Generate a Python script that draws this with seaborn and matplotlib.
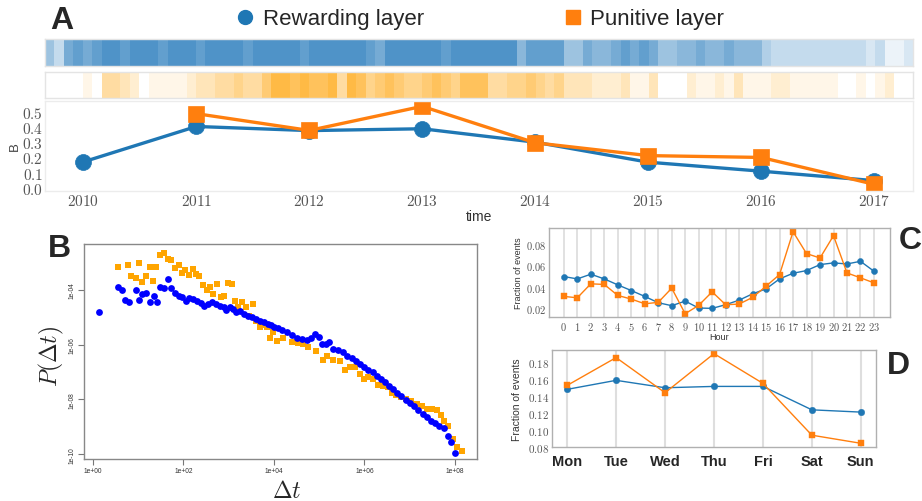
import numpy as np
import matplotlib.pyplot as plt
import seaborn as sns
from matplotlib.colors import LinearSegmentedColormap
from matplotlib.lines import Line2D

# ---- data ----
years = [2010, 2011, 2012, 2013, 2014, 2015, 2016, 2017]
rewarding_B = [0.171, 0.403, 0.376, 0.388, 0.300, 0.169, 0.110, 0.048]
punitive_years = [2011, 2012, 2013, 2014, 2015, 2016, 2017]
punitive_B = [0.487, 0.377, 0.535, 0.296, 0.212, 0.200, 0.024]

# event density per month (Sep 2009 .. Apr 2017), 0 = none, 9 = saturated
rewarding_activity = [
    5, 3, 7, 8, 7, 8, 9, 9, 8, 9, 9, 9, 8, 9,
    9, 9, 8, 9, 9, 9, 9, 8, 9, 9, 9, 9, 9, 8,
    9, 9, 9, 9, 9, 9, 8, 7, 9, 9, 9, 9, 9, 9,
    8, 9, 9, 9, 9, 9, 9, 9, 6, 8, 8, 8, 8, 5,
    5, 7, 6, 6, 7, 8, 7, 8, 7, 5, 5, 6, 6, 7,
    6, 6, 7, 6, 6, 6, 4, 3, 3, 3, 3, 3, 3, 3,
    3, 3, 3, 2, 3, 1, 1, 2,
]
punitive_activity = [
    0, 0, 0, 0, 1, 0, 4, 4, 3, 2, 0, 1, 1, 1,
    1, 2, 3, 3, 4, 4, 5, 4, 4, 6, 8, 8, 7, 8,
    7, 7, 8, 4, 8, 7, 5, 6, 7, 6, 5, 5, 6, 7,
    6, 5, 7, 7, 7, 4, 4, 5, 5, 6, 5, 4, 5, 3,
    3, 3, 2, 2, 2, 3, 1, 1, 3, 0, 0, 0, 2, 1,
    1, 2, 1, 3, 1, 1, 1, 2, 2, 1, 1, 1, 1, 1,
    0, 0, 1, 0, 1, 2, 0, 0,
]

# inter-event time distribution (log10 values)
rew_log_dt = [0.13, 0.55, 0.63, 0.70, 0.79, 0.95, 1.02, 1.09, 1.18, 1.25, 1.34, 1.42,
              1.49, 1.57, 1.65, 1.73, 1.81, 1.89, 1.96, 2.05, 2.13, 2.22, 2.29, 2.38,
              2.46, 2.55, 2.64, 2.72, 2.81, 2.89, 2.95, 3.03, 3.10, 3.17, 3.25, 3.34,
              3.43, 3.51, 3.60, 3.69, 3.77, 3.86, 3.93, 4.01, 4.10, 4.17, 4.28, 4.39,
              4.50, 4.61, 4.72, 4.81, 4.90, 5.00, 5.07, 5.15, 5.22, 5.31, 5.41, 5.52,
              5.62, 5.72, 5.81, 5.90, 5.99, 6.08, 6.18, 6.27, 6.36, 6.45, 6.54, 6.64,
              6.73, 6.82, 6.92, 7.01, 7.10, 7.19, 7.29, 7.38, 7.47, 7.56, 7.66, 7.75,
              7.84, 7.92, 8.00, 8.07]
rew_log_p = [-4.82, -3.91, -4.00, -4.36, -4.44, -4.00, -4.39, -4.16, -4.12, -4.44, -4.22, -4.46,
             -3.91, -3.95, -3.62, -3.95, -4.10, -4.22, -4.28, -4.40, -4.29, -4.34, -4.40, -4.48,
             -4.58, -4.53, -4.46, -4.52, -4.58, -4.64, -4.73, -4.64, -4.70, -4.82, -4.77, -4.89,
             -4.97, -5.01, -5.07, -5.13, -5.19, -5.25, -5.29, -5.34, -5.41, -5.46, -5.55, -5.65,
             -5.74, -5.80, -5.82, -5.77, -5.62, -5.71, -5.98, -5.98, -5.90, -6.16, -6.19, -6.26,
             -6.41, -6.50, -6.59, -6.71, -6.83, -6.92, -7.01, -7.14, -7.26, -7.38, -7.50, -7.62,
             -7.77, -7.89, -8.01, -8.13, -8.25, -8.39, -8.53, -8.65, -8.78, -8.86, -8.96, -9.05,
             -9.32, -9.56, -9.96, -10.27]
pun_log_dt = [0.55, 0.78, 0.85, 0.94, 1.01, 1.09, 1.17, 1.25, 1.32, 1.40, 1.49, 1.56,
              1.65, 1.72, 1.81, 1.89, 1.96, 2.03, 2.12, 2.20, 2.27, 2.35, 2.43, 2.51,
              2.58, 2.66, 2.75, 2.82, 2.90, 2.98, 3.07, 3.13, 3.21, 3.30, 3.38, 3.45,
              3.53, 3.60, 3.69, 3.77, 3.84, 3.91, 3.99, 4.06, 4.20, 4.39, 4.54, 4.65,
              4.76, 4.94, 5.09, 5.18, 5.31, 5.46, 5.57, 5.68, 5.79, 5.90, 5.99, 6.08,
              6.19, 6.31, 6.42, 6.53, 6.60, 6.70, 6.82, 6.93, 7.04, 7.16, 7.27, 7.38,
              7.49, 7.60, 7.69, 7.76, 7.85, 7.95, 8.04, 8.15]
pun_log_p = [-3.18, -3.10, -3.49, -3.58, -3.04, -3.73, -3.49, -3.18, -3.67, -3.18, -2.74, -2.64,
             -2.86, -2.91, -3.22, -3.09, -3.39, -3.28, -3.46, -3.25, -3.43, -3.51, -3.83, -4.00,
             -3.91, -4.16, -3.79, -4.25, -4.24, -3.77, -3.79, -4.40, -4.62, -4.44, -4.62, -4.97,
             -4.50, -5.13, -5.37, -5.29, -5.37, -5.77, -5.54, -5.86, -5.77, -5.92, -5.94, -5.98,
             -6.08, -6.22, -6.56, -6.43, -6.55, -6.59, -6.92, -6.83, -6.83, -7.07, -7.26, -7.19,
             -7.26, -7.47, -7.52, -7.56, -7.77, -7.84, -7.92, -7.98, -8.04, -8.17, -8.25, -8.35,
             -8.35, -8.37, -8.56, -8.78, -8.98, -9.44, -9.72, -9.89]

hours = list(range(24))
rew_hour = [0.0495, 0.0473, 0.0517, 0.0473, 0.0417, 0.0364, 0.0309, 0.0250,
            0.0222, 0.0265, 0.0200, 0.0197, 0.0231, 0.0274, 0.0333, 0.0380,
            0.0473, 0.0526, 0.0551, 0.0607, 0.0623, 0.0613, 0.0638, 0.0545]
pun_hour = [0.0309, 0.0296, 0.0427, 0.0421, 0.0318, 0.0284, 0.0240, 0.0253,
            0.0386, 0.0147, 0.0225, 0.0352, 0.0231, 0.0237, 0.0300, 0.0405,
            0.0514, 0.0915, 0.0710, 0.0669, 0.0878, 0.0529, 0.0483, 0.0436]

days = ['Mon', 'Tue', 'Wed', 'Thu', 'Fri', 'Sat', 'Sun']
rew_day = [0.1479, 0.1586, 0.1498, 0.1514, 0.1514, 0.1236, 0.1209]
pun_day = [0.1526, 0.1856, 0.1439, 0.1903, 0.1550, 0.0935, 0.0839]

BLUE = '#1f77b4'
ORANGE = '#ff7f0e'

sns.set_style("white")
plt.rcParams['font.family'] = ['Liberation Sans', 'DejaVu Sans']
plt.rcParams['mathtext.fontset'] = 'cm'

W, H = 922, 502
fig = plt.figure(figsize=(W / 100, H / 100), dpi=100)


def px_axes(x0, y0, x1, y1):
    # axes from pixel box (top-left origin)
    return fig.add_axes([x0 / W, 1 - y1 / H, (x1 - x0) / W, (y1 - y0) / H])


def frame(ax, color, lw=1.0):
    for sp in ax.spines.values():
        sp.set_visible(True)
        sp.set_color(color)
        sp.set_linewidth(lw)


def tex(vals, fmt):
    return ['$' + format(v, fmt) + '$' for v in vals]


# ---- A: activity strips ----
blue_cmap = LinearSegmentedColormap.from_list('rew', ['#ffffff', '#4f93c8'])
orange_cmap = LinearSegmentedColormap.from_list('pun', ['#ffffff', '#ffb12e'])

ax_s1 = px_axes(45, 40, 913, 67)
sns.heatmap(np.array([rewarding_activity]), ax=ax_s1, cmap=blue_cmap, vmin=0, vmax=9,
            cbar=False, xticklabels=False, yticklabels=False)
frame(ax_s1, '#e4e4e4')

ax_s2 = px_axes(45, 73, 913, 99)
sns.heatmap(np.array([punitive_activity]), ax=ax_s2, cmap=orange_cmap, vmin=0, vmax=9,
            cbar=False, xticklabels=False, yticklabels=False)
frame(ax_s2, '#e4e4e4')

# ---- A: B over time ----
axA = px_axes(45, 102, 913, 192)
sns.lineplot(x=years, y=rewarding_B, ax=axA, color=BLUE, marker='o', markersize=11.5,
             linewidth=2.4, mec=BLUE, mew=0.5)
sns.lineplot(x=punitive_years, y=punitive_B, ax=axA, color=ORANGE, marker='s', markersize=11,
             linewidth=2.4, mec=ORANGE, mew=0.5)
axA.set_xlim(2009.66, 2017.345)
axA.set_ylim(-0.02, 0.57)
axA.set_xticks(years)
axA.set_xticklabels(tex(years, 'd'))
yt = [0.0, 0.1, 0.2, 0.3, 0.4, 0.5]
axA.set_yticks(yt)
axA.set_yticklabels(tex(yt, '.1f'))
axA.tick_params(length=0, labelsize=11, colors='#555555', pad=1.5)
frame(axA, '#ececec')
axA.set_ylabel('B', fontsize=9.5, color='#444444')
axA.yaxis.set_label_coords(-0.028, 0.5)
axA.set_xlabel('time', fontsize=10, color='#333333')
axA.xaxis.set_label_coords(0.5, -0.2)

handles = [Line2D([], [], ls='', marker='o', color=BLUE, markersize=10, label='Rewarding layer'),
           Line2D([], [], ls='', marker='s', color=ORANGE, markersize=10, label='Punitive layer')]
fig.legend(handles=handles, loc='center', bbox_to_anchor=(480 / W, 1 - 20 / H), ncol=2,
           frameon=False, fontsize=16, handlelength=0.8, handletextpad=0.4,
           columnspacing=6.3, borderpad=0)

fig.text(50 / W, 1 - 21 / H, 'A', fontsize=23, fontweight='bold', ha='left', va='center')

# ---- B: inter-event times ----
axB = px_axes(84, 245, 477, 460)
sns.scatterplot(x=10 ** np.array(pun_log_dt), y=10 ** np.array(pun_log_p), ax=axB,
                color='orange', marker='s', s=25, linewidth=0)
sns.scatterplot(x=10 ** np.array(rew_log_dt), y=10 ** np.array(rew_log_p), ax=axB,
                color='blue', marker='o', s=24, linewidth=0)
axB.set_xscale('log')
axB.set_yscale('log')
axB.set_xlim(10 ** -0.2, 10 ** 8.49)
axB.set_ylim(10 ** -10.17, 10 ** -2.33)
axB.set_xticks([1e0, 1e2, 1e4, 1e6, 1e8])
axB.set_xticklabels(['1e+00', '1e+02', '1e+04', '1e+06', '1e+08'])
axB.set_yticks([1e-10, 1e-8, 1e-6, 1e-4])
axB.set_yticklabels(['1e-10', '1e-08', '1e-06', '1e-04'], rotation=90, va='center')
axB.minorticks_off()
axB.tick_params(direction='out', length=4, width=0.8, color='#777777', labelsize=4.8,
                labelcolor='#333333', pad=2, bottom=True, left=True)
frame(axB, '#888888', 1.0)
axB.set_ylabel(r'$P(\Delta t)$', fontsize=17)
axB.yaxis.set_label_coords(-0.045, 0.48)
axB.set_xlabel(r'$\Delta t$', fontsize=17)
axB.xaxis.set_label_coords(0.515, -0.1)
fig.text(48 / W, 1 - 249 / H, 'B', fontsize=23, fontweight='bold', ha='left', va='center')

# ---- C: hour of day ----
axC = px_axes(549, 229, 890, 318)
axC.set_axisbelow(True)
axC.grid(axis='x', color='#dedede', linewidth=1.3)
sns.lineplot(x=hours, y=rew_hour, ax=axC, color=BLUE, marker='o', markersize=4.4,
             linewidth=1.0, mec=BLUE, mew=0.3)
sns.lineplot(x=hours, y=pun_hour, ax=axC, color=ORANGE, marker='s', markersize=4.4,
             linewidth=1.0, mec=ORANGE, mew=0.3)
axC.set_xlim(-1.1, 24.19)
axC.set_ylim(0.0116, 0.095)
axC.set_xticks(hours)
axC.set_xticklabels(tex(hours, 'd'))
yc = [0.02, 0.04, 0.06, 0.08]
axC.set_yticks(yc)
axC.set_yticklabels(tex(yc, '.2f'))
axC.tick_params(length=0, labelsize=7.5, colors='#555555', pad=2)
frame(axC, '#b0b0b0')
axC.set_ylabel('Fraction of events', fontsize=6.5, color='#333333')
axC.yaxis.set_label_coords(-0.076, 0.5)
axC.set_xlabel('Hour', fontsize=6.5, color='#333333')
axC.xaxis.set_label_coords(0.5, -0.17)
fig.text(899 / W, 1 - 241 / H, 'C', fontsize=23, fontweight='bold', ha='left', va='center')

# ---- D: day of week ----
axD = px_axes(552, 351, 876, 448)
axD.set_axisbelow(True)
axD.grid(axis='x', color='#dedede', linewidth=1.5)
sns.lineplot(x=days, y=rew_day, ax=axD, sort=False, color=BLUE, marker='o', markersize=4.7,
             linewidth=1.0, mec=BLUE, mew=0.3)
sns.lineplot(x=days, y=pun_day, ax=axD, sort=False, color=ORANGE, marker='s', markersize=5,
             linewidth=1.0, mec=ORANGE, mew=0.3)
axD.set_xlim(-0.31, 6.31)
axD.set_ylim(0.0795, 0.1946)
yd = [0.08, 0.10, 0.12, 0.14, 0.16, 0.18]
axD.set_yticks(yd)
axD.set_yticklabels(tex(yd, '.2f'))
axD.tick_params(axis='y', length=0, labelsize=8, colors='#555555', pad=2)
axD.tick_params(axis='x', length=0, labelsize=10.5, pad=5)
for lab in axD.get_xticklabels():
    lab.set_fontweight('bold')
frame(axD, '#b0b0b0')
axD.set_xlabel('')
axD.set_ylabel('Fraction of events', fontsize=7.5, color='#333333')
axD.yaxis.set_label_coords(-0.093, 0.5)
fig.text(887 / W, 1 - 366 / H, 'D', fontsize=23, fontweight='bold', ha='left', va='center')

fig.savefig('out.png', dpi=100)
